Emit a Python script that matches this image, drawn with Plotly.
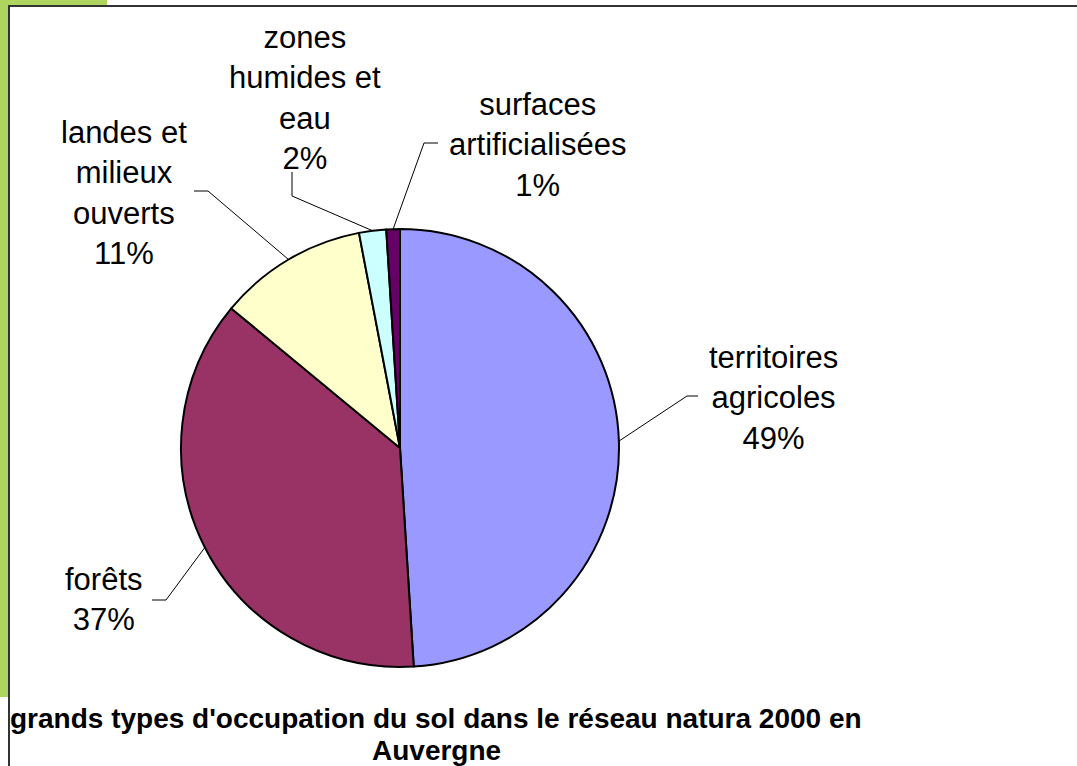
import math
import plotly.graph_objects as go

# ---- data ----
categories = ["territoires agricoles", "forêts", "landes et milieux ouverts",
              "zones humides et eau", "surfaces artificialisées"]
label_text = ["territoires<br>agricoles", "forêts", "landes et<br>milieux<br>ouverts",
              "zones<br>humides et<br>eau", "surfaces<br>artificialisées"]
values = [49, 37, 11, 2, 1]
colors = ["#9999FF", "#993366", "#FFFFCC", "#CCFFFF", "#660066"]
title_lines = ["grands types d'occupation du sol dans le réseau natura 2000 en", "Auvergne"]

# ---- layout geometry (pixels) ----
W, H = 1077, 766
CX, CY, R = 400, 448, 219
label_pos = [(773, 398), (104, 599), (124, 193), (305, 98), (537, 145)]
elbows = [((687, 396), (698, 396)),
          ((166, 600), (152, 600)),
          ((208, 191), (194, 191)),
          ((292, 196), (292, 172)),
          ((424, 143), (438, 143))]
title_y = [718, 750]

def px(x):
    return x / W

def py(y):
    return 1 - y / H

fig = go.Figure(go.Pie(
    labels=categories, values=values, sort=False, direction="clockwise",
    rotation=0, marker=dict(colors=colors, line=dict(color="black", width=2)),
    textinfo="none", hoverinfo="label+percent", showlegend=False,
    domain=dict(x=[px(CX - R), px(CX + R)], y=[py(CY + R), py(CY - R)]),
))

shapes = []
shapes.append(dict(type="rect", xref="paper", yref="paper", x0=0, x1=px(8),
                   y0=py(697), y1=1, fillcolor="#AED65F", line=dict(width=0), layer="below"))
shapes.append(dict(type="rect", xref="paper", yref="paper", x0=0, x1=px(107),
                   y0=py(5), y1=1, fillcolor="#AED65F", line=dict(width=0), layer="below"))
shapes.append(dict(type="rect", xref="paper", yref="paper", x0=px(9), x1=px(1080),
                   y0=py(770), y1=py(6), line=dict(color="#333333", width=2)))

annotations = []
total = sum(values)
cum = 0
for i, v in enumerate(values):
    mid = (cum + v / 2) / total * 2 * math.pi
    cum += v
    ax = CX + R * math.sin(mid)
    ay = CY - R * math.cos(mid)
    (ex, ey), (fx, fy) = elbows[i]
    shapes.append(dict(type="path", xref="paper", yref="paper",
                       path=f"M {px(ax)},{py(ay)} L {px(ex)},{py(ey)} L {px(fx)},{py(fy)}",
                       line=dict(color="black", width=1)))
    pct = round(v / total * 100)
    lx, ly = label_pos[i]
    annotations.append(dict(text=f"{label_text[i]}<br>{pct}%", x=px(lx), y=py(ly),
                            xref="paper", yref="paper", xanchor="center", yanchor="middle",
                            showarrow=False, align="center",
                            font=dict(family="Liberation Sans, Arial", size=31, color="black")))

for t, ty in zip(title_lines, title_y):
    annotations.append(dict(text=f"<b>{t}</b>", x=px(436), y=py(ty),
                            xref="paper", yref="paper", xanchor="center", yanchor="middle",
                            showarrow=False, align="center",
                            font=dict(family="Liberation Sans, Arial", size=28, color="black")))

fig.update_layout(width=W, height=H, margin=dict(l=0, r=0, t=0, b=0),
                  paper_bgcolor="white", plot_bgcolor="white",
                  shapes=shapes, annotations=annotations)

body = fig.to_html(full_html=False, include_plotlyjs=True,
                   config={"displayModeBar": False})
html = ("<!DOCTYPE html><html><head><meta charset='utf-8'>"
        "<style>html,body{margin:0;padding:0;overflow:hidden;}</style></head><body>"
        + body + "</body></html>")
with open("out.html", "w", encoding="utf-8") as f:
    f.write(html)
